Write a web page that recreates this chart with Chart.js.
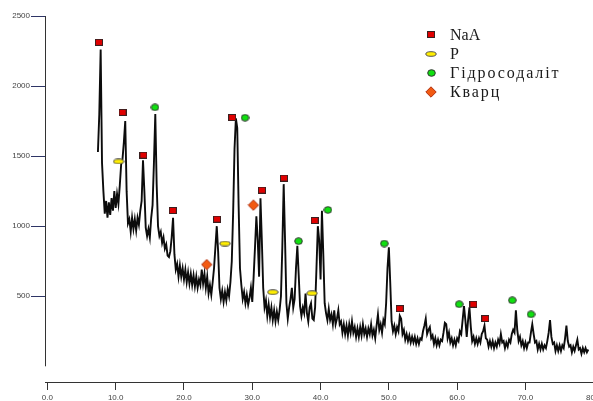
<!DOCTYPE html>
<html>
<head>
<meta charset="utf-8">
<script src="https://cdn.jsdelivr.net/npm/chart.js@4.4.1/dist/chart.umd.min.js"></script>
<style>
  html, body { margin: 0; padding: 0; background: #fff; overflow: hidden; }
  #wrap { position: relative; width: 593px; height: 401px; overflow: hidden; }
  #legend { position: absolute; left: 420px; top: 25px; font-family: "Liberation Serif", "DejaVu Serif", serif; font-size: 16px; color: #1a1a1a; }
  .row { height: 19px; display: flex; align-items: center; }
  .mk { width: 22px; display: flex; justify-content: center; align-items: center; }
  .lbl { margin-left: 8px; }
  .lbl.cyr { letter-spacing: 1.9px; }
</style>
</head>
<body>
<div id="wrap">
  <canvas id="xrd" width="630" height="401"></canvas>
  <div id="legend"></div>
</div>
<script>
// дифрактограма: 2θ від 7.4 з кроком 0.2
var twoThetaStart = 7.4;
var twoThetaStep = 0.2;
var intensity = [
  1530,1800,2260,1450,1250,1090,1180,1060,1170,1080,  // 7.4
  1200,1110,1250,1130,1230,1160,1290,1440,1480,1600,  // 9.4
  1750,1250,1020,1050,960,1060,980,1050,970,1060,     // 11.4
  1010,1110,1180,1470,1250,990,930,980,920,1060,      // 13.4
  1150,1450,1800,1300,1000,930,960,880,920,840,       // 15.4
  870,790,780,820,920,1060,800,690,730,640,           // 17.4
  720,640,700,620,690,600,670,590,660,580,            // 19.4
  650,570,640,560,620,580,690,590,660,560,            // 21.4
  640,520,580,510,600,700,850,1000,820,560,           // 23.4
  480,540,460,530,470,550,500,600,750,1100,           // 25.4
  1550,1770,1700,1150,700,580,480,530,450,510,        // 27.4
  440,490,560,460,640,850,1070,900,640,1200,          // 29.4
  900,560,420,470,360,440,350,420,330,400,            // 31.4
  320,390,330,400,500,850,1300,900,450,340,           // 33.4
  420,480,560,420,480,700,860,650,430,360,            // 35.4
  420,380,520,380,320,420,450,340,330,420,            // 37.4
  700,1000,900,620,1110,800,450,380,330,410,          // 39.4
  330,370,300,400,300,340,400,300,320,240,            // 41.4
  300,230,290,220,300,240,320,240,280,210,            // 43.4
  270,210,280,220,300,230,270,210,270,230,            // 45.4
  300,220,260,200,290,370,260,300,240,330,            // 47.4
  300,450,700,850,600,320,250,290,230,280,            // 49.4
  250,360,340,230,260,190,230,180,220,170,            // 51.4
  210,170,210,160,200,160,200,190,250,290,            // 53.4
  340,230,260,280,200,220,160,200,150,190,            // 55.4
  150,190,180,240,310,300,200,240,170,200,            // 57.4
  150,190,150,200,180,250,230,330,430,330,            // 59.4
  210,330,420,280,180,210,160,200,160,200,            // 61.4
  170,230,250,290,200,190,140,180,140,180,            // 63.4
  130,170,140,190,160,230,170,180,130,170,            // 65.4
  140,190,170,230,260,240,400,260,180,210,            // 67.4
  150,180,130,170,130,170,170,240,300,230,            // 69.4
  170,180,120,160,120,160,120,150,130,180,            // 71.4
  240,330,210,160,170,110,150,110,150,110,            // 73.4
  150,130,200,290,180,140,150,100,140,110,            // 75.4
  150,190,120,130,90,130,100,130,100,120              // 77.4
];

// позначки фаз (2θ, інтенсивність)
var naaX = [7.54, 11.01, 14.06, 18.36, 24.84, 27.06, 31.41, 34.64, 39.13, 51.59, 62.38, 64.12];
var naaY = [2312, 1812, 1507, 1112, 1050, 1776, 1257, 1343, 1041, 412, 443, 341];
var pX = [10.43, 26.0, 33.0, 38.75];
var pY = [1462, 876, 529, 521];
var hsX = [15.75, 28.94, 36.77, 41.07, 49.33, 60.29, 68.07, 70.82];
var hsY = [1848, 1774, 893, 1116, 876, 443, 471, 371];
var qX = [23.33, 30.17];
var qY = [726, 1150];

var phaseNames = ['NaA', 'P', 'Гідросодаліт', 'Кварц'];
var xTicks = [0, 10, 20, 30, 40, 50, 60, 70, 80];
var yTicks = [500, 1000, 1500, 2000, 2500];

function makeMarker(w, h, draw) {
  var c = document.createElement('canvas');
  c.width = w;
  c.height = h;
  draw(c.getContext('2d'));
  return c;
}

var sqMark = makeMarker(8, 7, function (g) {
  g.fillStyle = '#e00000';
  g.fillRect(0.5, 0.5, 7, 6);
  g.strokeStyle = '#3a2020';
  g.lineWidth = 1;
  g.strokeRect(0.5, 0.5, 7, 6);
});
var ellMark = makeMarker(12, 6, function (g) {
  g.beginPath();
  g.ellipse(6, 3, 5.2, 2.3, 0, 0, Math.PI * 2);
  g.fillStyle = '#ffee00';
  g.fill();
  g.strokeStyle = '#555';
  g.lineWidth = 1;
  g.stroke();
});
var grMark = makeMarker(9, 8, function (g) {
  g.beginPath();
  g.ellipse(4.5, 4, 3.8, 3.3, 0, 0, Math.PI * 2);
  g.fillStyle = '#10e010';
  g.fill();
  g.strokeStyle = '#333';
  g.lineWidth = 1;
  g.stroke();
});
var dmMark = makeMarker(12, 12, function (g) {
  g.beginPath();
  g.moveTo(6, 0.8);
  g.lineTo(11.2, 6);
  g.lineTo(6, 11.2);
  g.lineTo(0.8, 6);
  g.closePath();
  g.fillStyle = '#f25a12';
  g.fill();
  g.strokeStyle = '#b03010';
  g.lineWidth = 1;
  g.stroke();
});

function pts(xs, ys) {
  return xs.map(function (x, i) { return { x: x, y: ys[i] }; });
}

var trace = intensity.map(function (v, i) {
  return { x: +(twoThetaStart + i * twoThetaStep).toFixed(1), y: v };
});

function markerSet(name, xs, ys, img) {
  return {
    label: name,
    data: pts(xs, ys),
    showLine: false,
    pointStyle: img,
    pointRadius: 5,
    order: 1
  };
}

// вісь Y малюємо окремо, щоб вона не з'єднувалась з віссю X
var yAxisLine = {
  id: 'yAxisLine',
  afterDraw: function (chart) {
    var ys = chart.scales.y;
    var ctx = chart.ctx;
    var x0 = Math.round(chart.chartArea.left) + 0.5;
    ctx.save();
    ctx.strokeStyle = '#333';
    ctx.lineWidth = 1;
    ctx.beginPath();
    ctx.moveTo(x0, ys.getPixelForValue(yTicks[yTicks.length - 1]));
    ctx.lineTo(x0, ys.getPixelForValue(0));
    ctx.stroke();
    ctx.restore();
  }
};

var tickFont = { family: '"Liberation Sans", Arial, sans-serif', size: 8 };

var chart = new Chart(document.getElementById('xrd'), {
  type: 'scatter',
  data: {
    datasets: [
      {
        label: 'XRD',
        data: trace,
        showLine: true,
        borderColor: '#0c0c0c',
        borderWidth: 1.9,
        pointRadius: 0,
        tension: 0,
        order: 5
      },
      markerSet(phaseNames[0], naaX, naaY, sqMark),
      markerSet(phaseNames[1], pX, pY, ellMark),
      markerSet(phaseNames[2], hsX, hsY, grMark),
      markerSet(phaseNames[3], qX, qY, dmMark)
    ]
  },
  options: {
    responsive: false,
    animation: false,
    events: [],
    layout: { padding: { top: 16, right: 0, bottom: 0, left: 0 } },
    plugins: {
      legend: { display: false },
      tooltip: { enabled: false }
    },
    scales: {
      x: {
        type: 'linear',
        min: -0.35,
        max: 84.43,
        afterBuildTicks: function (s) {
          s.ticks = xTicks.map(function (v) { return { value: v }; });
        },
        afterFit: function (s) { s.height = 19; },
        grid: { drawOnChartArea: false, tickLength: 8, color: '#333' },
        border: { display: true, color: '#333', width: 1 },
        ticks: {
          padding: 3,
          maxRotation: 0,
          color: '#444',
          font: tickFont,
          callback: function (v) { return Number(v).toFixed(1); }
        }
      },
      y: {
        min: -112,
        max: 2500,
        afterBuildTicks: function (s) {
          s.ticks = yTicks.map(function (v) { return { value: v }; });
        },
        afterFit: function (s) { s.width = 45; },
        grid: { drawOnChartArea: false, tickLength: 14, color: '#2e3566' },
        border: { display: false },
        ticks: {
          padding: 1,
          color: '#444',
          font: tickFont,
          callback: function (v) { return String(v); }
        }
      }
    }
  },
  plugins: [yAxisLine]
});

// легенда
var legendMarks = [sqMark, ellMark, grMark, dmMark];
var legend = document.getElementById('legend');
phaseNames.forEach(function (name, i) {
  var row = document.createElement('div');
  row.className = 'row';
  var mk = document.createElement('span');
  mk.className = 'mk';
  var img = document.createElement('img');
  img.src = legendMarks[i].toDataURL();
  mk.appendChild(img);
  var lbl = document.createElement('span');
  lbl.className = /[А-яІіЇїЄє]/.test(name) ? 'lbl cyr' : 'lbl';
  lbl.textContent = name;
  row.appendChild(mk);
  row.appendChild(lbl);
  legend.appendChild(row);
});
</script>
</body>
</html>
